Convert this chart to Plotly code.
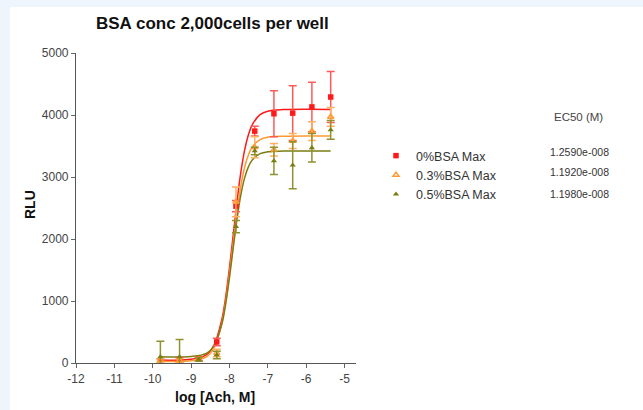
import plotly.graph_objects as go

# Measured points (log molar concentration of Ach)
log_conc = [-9.8, -9.3, -8.8, -8.33, -7.83, -7.34, -6.84, -6.35, -5.85, -5.36]

rlu_0 = [30, 50, 65, 340, 2530, 3740, 4020, 4030, 4130, 4290]
err_0 = [40, 40, 30, 60, 90, 80, 370, 440, 400, 410]

rlu_03 = [40, 40, 60, 160, 2600, 3480, 3440, 3580, 3740, 3970]
err_03 = [30, 30, 30, 60, 240, 170, 100, 120, 150, 150]

rlu_05 = [100, 100, 60, 130, 2200, 3420, 3260, 3190, 3470, 3760]
err_05 = [250, 280, 30, 60, 100, 60, 220, 380, 230, 150]

# Fitted curves
fit_x = [-9.8, -9.0, -8.6, -8.4, -8.2, -8.1, -8.0, -7.9, -7.8, -7.7, -7.6,
         -7.5, -7.4, -7.2, -7.0, -6.6, -5.36]
fit_0 = [50, 59, 133, 290, 696, 1055, 1525, 2070, 2615, 3085, 3445,
         3691, 3850, 4007, 4062, 4087, 4090]
fit_03 = [30, 37, 101, 245, 634, 980, 1434, 1950, 2448, 2862, 3165,
          3363, 3487, 3604, 3642, 3658, 3660]
fit_05 = [100, 105, 155, 277, 623, 943, 1370, 1859, 2331, 2718, 2994,
          3171, 3279, 3376, 3406, 3418, 3420]

series_names = ["0%BSA Max", "0.3%BSA Max", "0.5%BSA Max"]
ec50_labels = ["1.2590e-008", "1.1920e-008", "1.1980e-008"]

title_text = "BSA conc 2,000cells per well"
x_title = "log [Ach, M]"
y_title = "RLU"
x_ticks = [-12, -11, -10, -9, -8, -7, -6, -5]
x_ticktext = ["-12", "-11", "-10", "-9", "-8", "-7", "-6", "-5"]
y_ticks = [0, 1000, 2000, 3000, 4000, 5000]

colors = ["#ff1a1a", "#ff9a33", "#7a7d12"]
err_colors = ["#ff5a5a", "#ffb060", "#8f922e"]
symbols = ["square", "triangle-up-open", "triangle-up"]

fig = go.Figure()

for fy, c in zip([fit_0, fit_03, fit_05], colors):
    fig.add_trace(go.Scatter(x=fit_x, y=fy, mode="lines", line=dict(color=c, width=1.5, shape="spline"),
                             showlegend=False, hoverinfo="skip", cliponaxis=False))

for ys, es, name, c, ec, sym in zip([rlu_0, rlu_03, rlu_05], [err_0, err_03, err_05], series_names,
                                    colors, err_colors, symbols):
    fig.add_trace(go.Scatter(
        x=log_conc, y=ys, mode="markers", name=name,
        marker=dict(symbol=sym, size=5.5, color=c, line=dict(color=c, width=1.3 if "open" in sym else 0)),
        error_y=dict(type="data", array=es, visible=True, color=ec, thickness=1.5, width=4),
        cliponaxis=False,
    ))

W, H = 643, 410
L, R, T, B = 76, 287, 53, 47
pw, ph = W - L - R, H - T - B

def px_x(p):
    return (p - L) / pw

def px_y(p):
    return (H - B - p) / ph

fig.add_shape(type="rect", xref="paper", yref="paper", x0=px_x(10), x1=px_x(660),
              y0=px_y(430), y1=px_y(7), fillcolor="white", line=dict(width=0), layer="below")

annotations = [
    dict(text="<b>" + title_text + "</b>", x=px_x(212), y=px_y(23), xref="paper", yref="paper",
         showarrow=False, font=dict(size=17, color="#111"), xanchor="center", yanchor="middle"),
    dict(text="<b>" + x_title + "</b>", x=px_x(215), y=px_y(397), xref="paper", yref="paper",
         showarrow=False, font=dict(size=14, color="#111"), xanchor="center", yanchor="middle"),
    dict(text="<b>" + y_title + "</b>", x=px_x(30), y=px_y(205), xref="paper", yref="paper",
         showarrow=False, font=dict(size=14, color="#111"), xanchor="center", yanchor="middle",
         textangle=-90),
    dict(text="EC50 (M)", x=px_x(578), y=px_y(117), xref="paper", yref="paper",
         showarrow=False, font=dict(size=11.5, color="#444"), xanchor="center", yanchor="middle"),
]
for i, (lab, yy) in enumerate(zip(ec50_labels, [152, 172, 194])):
    annotations.append(dict(text=lab, x=px_x(611), y=px_y(yy), xref="paper", yref="paper",
                            showarrow=False, font=dict(size=10.5, color="#333"),
                            xanchor="right", yanchor="middle"))

fig.update_layout(
    width=W, height=H,
    margin=dict(l=L, r=R, t=T, b=B, autoexpand=False),
    paper_bgcolor="#eef5fc", plot_bgcolor="white",
    font=dict(family="Liberation Sans, Arial, sans-serif", color="#333"),
    showlegend=True,
    legend=dict(x=px_x(376), y=px_y(141), xanchor="left", yanchor="top",
                font=dict(size=12.5, color="#333"), bgcolor="rgba(0,0,0,0)", tracegroupgap=0),
    annotations=annotations,
)
fig.update_xaxes(range=[-12, -4.7], tickvals=x_ticks, ticktext=x_ticktext, ticks="outside", ticklen=4,
                 tickcolor="#666", showline=True, linecolor="#555", linewidth=1.2, showgrid=False,
                 zeroline=False, tickfont=dict(size=12, color="#444"), automargin=False)
fig.update_yaxes(range=[0, 5000], tickvals=y_ticks, ticks="outside", ticklen=4, tickcolor="#666",
                 showline=True, linecolor="#555", linewidth=1.2, showgrid=False, zeroline=False,
                 tickfont=dict(size=12, color="#444"), automargin=False)

fig.write_html("out.html", config={"displayModeBar": False},
               post_script="document.body.style.margin='0';document.body.style.background='#eef5fc';")
